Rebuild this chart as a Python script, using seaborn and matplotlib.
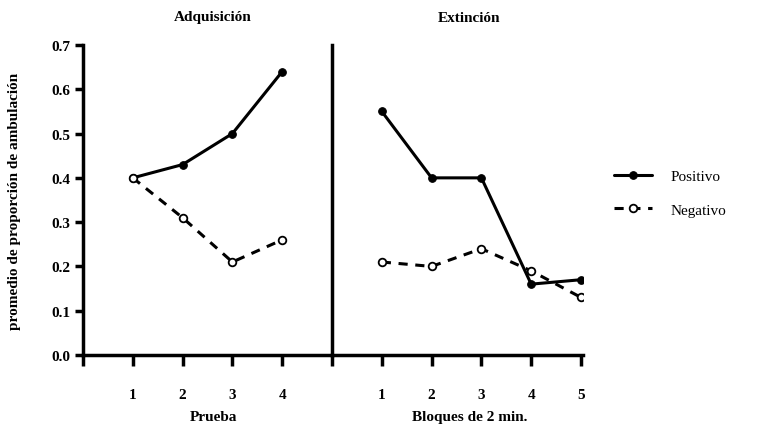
import pandas as pd
import matplotlib
matplotlib.use("Agg")
import matplotlib.pyplot as plt
import seaborn as sns

# Data
adq_x = [1, 2, 3, 4]
adq_pos = [0.40, 0.43, 0.50, 0.64]
adq_neg = [0.40, 0.31, 0.21, 0.26]

ext_x = [1, 2, 3, 4, 5]
ext_pos = [0.55, 0.40, 0.40, 0.16, 0.17]
ext_neg = [0.21, 0.20, 0.24, 0.19, 0.13]

y_ticks = [0.0, 0.1, 0.2, 0.3, 0.4, 0.5, 0.6, 0.7]

sns.set_style("ticks", {'axes.edgecolor': 'black', 'xtick.color': 'black',
                        'ytick.color': 'black', 'text.color': 'black',
                        'axes.labelcolor': 'black'})
plt.rcParams['font.family'] = ['Liberation Serif', 'DejaVu Serif']
plt.rcParams['font.size'] = 11

adq = pd.DataFrame({'x': adq_x, 'Positivo': adq_pos, 'Negativo': adq_neg})
ext = pd.DataFrame({'x': ext_x, 'Positivo': ext_pos, 'Negativo': ext_neg})

fig = plt.figure(figsize=(7.58, 4.31), dpi=100)
ax1 = fig.add_axes([83 / 758, 75 / 431, 249 / 758, 310 / 431])
ax2 = fig.add_axes([332 / 758, 75 / 431, 251 / 758, 310 / 431])

lw = 2.2
pos_kw = dict(color='black', linewidth=lw, marker='o', markersize=5.5,
              markerfacecolor='black', markeredgecolor='black')
neg_kw = dict(color='black', linewidth=lw, linestyle=(0, (3, 2.5)), marker='o',
              markersize=5.5, markerfacecolor='white', markeredgecolor='black',
              markeredgewidth=1.3)

for ax, df in [(ax1, adq), (ax2, ext)]:
    sns.lineplot(data=df, x='x', y='Positivo', ax=ax, label='Positivo', legend=False, **pos_kw)
    sns.lineplot(data=df, x='x', y='Negativo', ax=ax, label='Negativo', legend=False, **neg_kw)
    ax.set_ylim(0, 0.7)
    ax.set_xlabel('')
    ax.set_ylabel('')
    for s in ['top', 'right']:
        ax.spines[s].set_visible(False)
    for s in ['left', 'bottom']:
        ax.spines[s].set_linewidth(2.5)
        ax.spines[s].set_color('black')
    ax.tick_params(axis='x', length=8, width=2.5, pad=16, labelsize=11, colors='black')
    ax.tick_params(axis='y', length=6, width=2.5, pad=3, labelsize=11, colors='black')

ax1.set_xlim(0, 5)
ax1.set_xticks([0, 1, 2, 3, 4])
ax1.set_xticklabels(['', '1', '2', '3', '4'], fontweight='bold')
ax1.set_yticks(y_ticks)
ax1.set_yticklabels([f'{v:.1f}' for v in y_ticks], fontweight='bold')

ax2.set_xlim(0, 5.04)
ax2.set_xticks([0, 1, 2, 3, 4, 5])
ax2.set_xticklabels(['', '1', '2', '3', '4', '5'], fontweight='bold')
ax2.set_yticks([])
ax2.spines['left'].set_bounds(0, 0.7)

fig.text(213 / 758, 1 - 18 / 431, 'Adquisición', ha='center', va='center', fontweight='bold', fontsize=11)
fig.text(469 / 758, 1 - 18 / 431, 'Extinción', ha='center', va='center', fontweight='bold', fontsize=11)
fig.text(213 / 758, 1 - 418 / 431, 'Prueba', ha='center', va='center', fontweight='bold', fontsize=11)
fig.text(470 / 758, 1 - 418 / 431, 'Bloques de 2 min.', ha='center', va='center', fontweight='bold', fontsize=11)
fig.text(15 / 758, 1 - 201 / 431, 'promedio de proporción de ambulación', rotation=90,
         ha='center', va='center', fontweight='bold', fontsize=11)

handles, labels = ax2.get_legend_handles_labels()
fig.legend(handles, labels, loc='center left', bbox_to_anchor=(614 / 758, 237 / 431),
           frameon=False, fontsize=11, handlelength=2.5, handletextpad=1.2,
           labelspacing=1.3, borderpad=0, borderaxespad=0)

fig.savefig('out.png', dpi=100)
